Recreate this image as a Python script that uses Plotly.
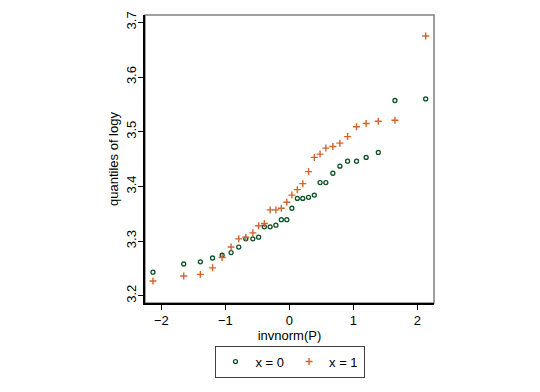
import plotly.graph_objects as go

# Plotting positions (invnorm(P)) shared by both groups
q_x0 = [-2.13, -1.65, -1.39, -1.20, -1.05, -0.91, -0.79, -0.68, -0.57, -0.48,
        -0.39, -0.30, -0.21, -0.125, -0.04, 0.04, 0.125, 0.21, 0.30, 0.39,
        0.48, 0.57, 0.68, 0.79, 0.91, 1.05, 1.20, 1.39, 1.65, 2.13]
logy_x0 = [3.243, 3.258, 3.262, 3.269, 3.274, 3.279, 3.289, 3.304, 3.304, 3.307,
           3.326, 3.326, 3.329, 3.339, 3.339, 3.360, 3.378, 3.378, 3.380, 3.384,
           3.407, 3.407, 3.424, 3.437, 3.446, 3.446, 3.453, 3.462, 3.557, 3.560]
q_x1 = q_x0
logy_x1 = [3.227, 3.236, 3.239, 3.251, 3.270, 3.289, 3.304, 3.307, 3.315, 3.328,
           3.332, 3.357, 3.357, 3.360, 3.371, 3.384, 3.394, 3.405, 3.427, 3.453,
           3.459, 3.470, 3.473, 3.479, 3.491, 3.509, 3.515, 3.519, 3.521, 3.675]

x_ticks = [-2, -1, 0, 1, 2]
y_ticks = [3.2, 3.3, 3.4, 3.5, 3.6, 3.7]

FONT = "Liberation Sans, Arial, sans-serif"
GREEN = "#0b5226"
ORANGE = "#d2652b"

fig = go.Figure()
fig.add_trace(go.Scatter(
    x=q_x0, y=logy_x0, mode="markers", name="x = 0",
    marker=dict(symbol="circle-open", size=4, color=GREEN, line=dict(width=1.3, color=GREEN)),
))
fig.add_trace(go.Scatter(
    x=q_x1, y=logy_x1, mode="markers", name="x = 1",
    marker=dict(symbol="cross-thin-open", size=5, color=ORANGE, line=dict(width=1.4, color=ORANGE)),
))

fig.add_shape(type="rect", xref="paper", yref="paper", x0=0, x1=1, y0=0, y1=1,
              line=dict(color="#808080", width=1.5), layer="below")

# page body has an 8px default margin, margins compensate for it
fig.update_layout(
    width=540, height=392,
    margin=dict(l=137, r=114, t=7, b=97, autoexpand=False),
    paper_bgcolor="white", plot_bgcolor="white",
    font=dict(family=FONT, size=13, color="#000"),
    showlegend=True,
    legend=dict(orientation="h", x=0.5, xanchor="center", y=-0.148, yanchor="top",
                bordercolor="#404040", borderwidth=1, font=dict(size=13),
                itemsizing="trace", itemwidth=30, tracegroupgap=0),
    xaxis=dict(range=[-2.255, 2.26], tickvals=x_ticks, ticks="outside", ticklen=5,
               tickcolor="#000", showline=True, linecolor="#000", linewidth=1.5,
               showgrid=False, zeroline=False, automargin=False,
               title=dict(text="invnorm(P)", standoff=2, font=dict(size=13))),
    yaxis=dict(range=[3.1867, 3.7134], tickvals=y_ticks, tickformat=".1f",
               ticks="outside", ticklen=5, tickcolor="#000", tickangle=-90,
               ticklabelstandoff=-3,
               showline=True, linecolor="#000", linewidth=1.5,
               showgrid=False, zeroline=False, automargin=False,
               title=dict(text="quantiles of logy", standoff=2, font=dict(size=13))),
)

fig.write_html("out.html")
